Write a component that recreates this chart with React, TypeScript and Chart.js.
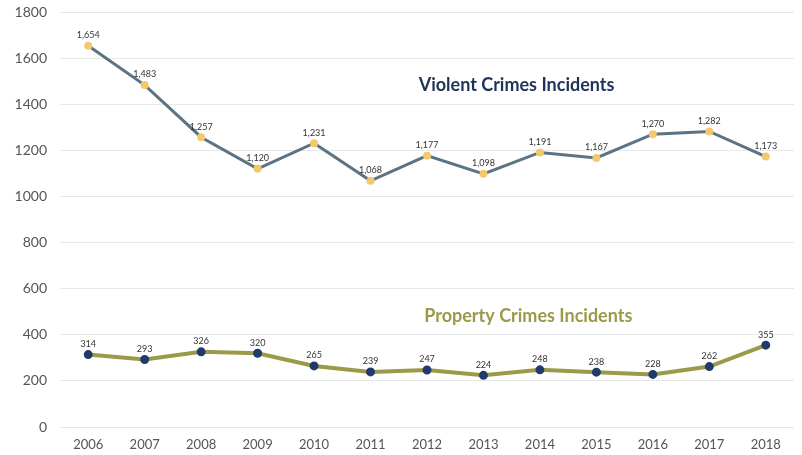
import React, { useEffect, useRef } from "react";
import { Chart, registerables } from "chart.js";

Chart.register(...registerables);

const years = ["2006","2007","2008","2009","2010","2011","2012","2013","2014","2015","2016","2017","2018"];
const violent = [1654,1483,1257,1120,1231,1068,1177,1098,1191,1167,1270,1282,1173];
const property = [314,293,326,320,265,239,247,224,248,238,228,262,355];
const yTicks = [0,200,400,600,800,1000,1200,1400,1600,1800];

const FONT = "Lato, 'Open Sans', sans-serif";

const labelPlugin = {
  id: "labels",
  afterDatasetsDraw(chart: any) {
    const ctx = chart.ctx;
    ctx.save();
    ctx.font = `9px ${FONT}`;
    ctx.fillStyle = "#333";
    ctx.textAlign = "center";
    ctx.textBaseline = "bottom";
    chart.data.datasets.forEach((ds: any, di: number) => {
      const meta = chart.getDatasetMeta(di);
      meta.data.forEach((pt: any, i: number) => {
        const v = ds.data[i] as number;
        ctx.fillText(v.toLocaleString("en-US"), pt.x, pt.y - 6);
      });
    });
    const a = chart.chartArea;
    const w = a.right - a.left;
    ctx.font = `bold 18px ${FONT}`;
    ctx.textBaseline = "middle";
    ctx.fillStyle = "#1f3257";
    ctx.fillText("Violent Crimes Incidents", a.left + w * 0.622, 85);
    ctx.fillStyle = "#9c9a4a";
    ctx.fillText("Property Crimes Incidents", a.left + w * 0.638, 316);
    ctx.restore();
  },
};

export default function App() {
  const ref = useRef<HTMLCanvasElement>(null);
  useEffect(() => {
    document.body.style.margin = "0";
    const chart = new Chart(ref.current!, {
      type: "line",
      data: {
        labels: years,
        datasets: [
          {
            data: violent,
            borderColor: "#5b7383",
            borderWidth: 3,
            pointBackgroundColor: "#f4c96c",
            pointBorderColor: "#f4c96c",
            pointRadius: 2.5,
            tension: 0,
          },
          {
            data: property,
            borderColor: "#9b9a48",
            borderWidth: 4,
            pointBackgroundColor: "#1f3a6b",
            pointBorderColor: "#1f3a6b",
            pointRadius: 2.5,
            tension: 0,
          },
        ],
      },
      options: {
        animation: false,
        responsive: false,
        layout: { padding: { top: 12, right: 2, left: 0, bottom: 0 } },
        plugins: { legend: { display: false }, tooltip: { enabled: false } },
        scales: {
          x: {
            offset: true,
            grid: { display: false },
            border: { display: false },
            ticks: { color: "#555", font: { family: FONT, size: 13 }, padding: 2 },
            afterFit: (s: any) => { s.height = 28; },
          },
          y: {
            min: 0,
            max: 1800,
            afterBuildTicks: (s: any) => { s.ticks = yTicks.map((v) => ({ value: v })); },
            grid: { color: "#e8e8e8", lineWidth: 1, drawTicks: false },
            border: { display: false },
            ticks: {
              color: "#555",
              font: { family: FONT, size: 14 },
              padding: 13,
              callback: (v: any) => String(v),
            },
            afterFit: (s: any) => { s.width = 60; s.paddingTop = 0; s.paddingBottom = 0; },
          },
        },
      },
      plugins: [labelPlugin],
    });
    return () => chart.destroy();
  }, []);
  return (
    <div style={{ position: "fixed", left: 0, top: 0, width: 802, height: 455, background: "#fff" }}>
      <canvas ref={ref} width={802} height={455} />
    </div>
  );
}
